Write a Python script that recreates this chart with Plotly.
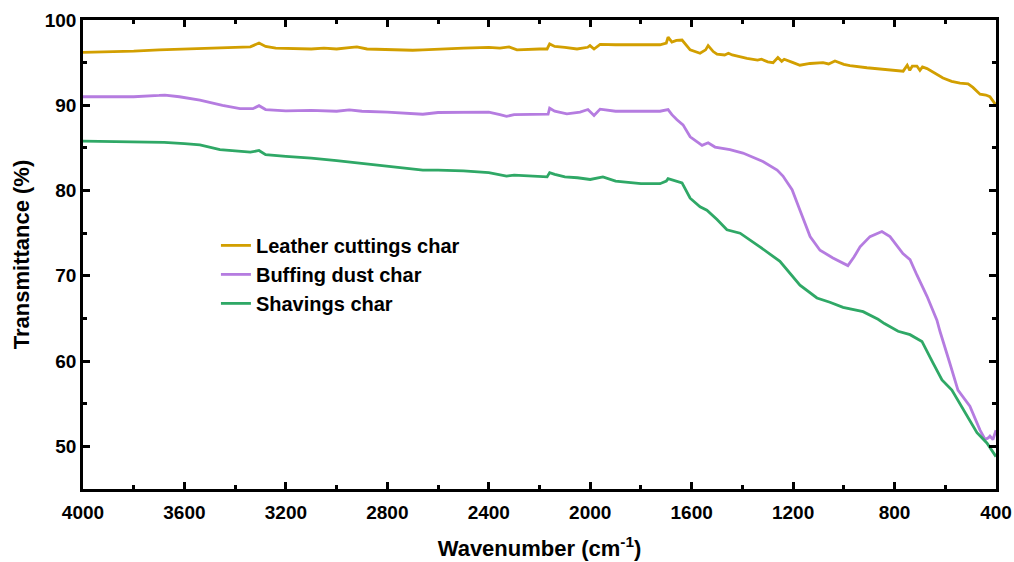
import plotly.graph_objects as go

# Leather cuttings char
wn_leather = [4000, 3900, 3800, 3700, 3600, 3500, 3400, 3340, 3306, 3280, 3240, 3150, 3100, 3050, 3000,
              2950, 2920, 2880, 2800, 2700, 2660, 2600, 2500, 2400, 2356, 2320, 2289, 2200, 2170, 2160,
              2140, 2100, 2052, 2010, 2001, 1985, 1961, 1900, 1800, 1725, 1700, 1693, 1678, 1660, 1638,
              1620, 1606, 1567, 1545, 1535, 1515, 1500, 1470, 1455, 1440, 1382, 1340, 1325, 1300, 1279,
              1260, 1245, 1235, 1200, 1173, 1133, 1100, 1082, 1060, 1035, 1000, 976, 909, 806, 766, 750,
              740, 730, 712, 700, 690, 672, 640, 609, 575, 542, 510, 491, 463, 440, 424, 404, 400]
t_leather = [96.2, 96.25, 96.35, 96.5, 96.6, 96.7, 96.75, 96.85, 97.3, 96.9, 96.7, 96.6, 96.6, 96.7, 96.6,
             96.75, 96.85, 96.6, 96.5, 96.45, 96.5, 96.6, 96.7, 96.8, 96.7, 96.85, 96.5, 96.6, 96.6, 97.2,
             96.9, 96.8, 96.6, 96.8, 97.0, 96.6, 97.15, 97.1, 97.1, 97.1, 97.3, 98.0, 97.4, 97.6, 97.65,
             97.0, 96.5, 96.1, 96.5, 97.0, 96.3, 96.0, 95.9, 96.1, 95.9, 95.5, 95.3, 95.4, 95.1, 95.0,
             95.6, 95.15, 95.4, 95.0, 94.7, 94.9, 94.95, 95.0, 94.85, 95.2, 94.8, 94.65, 94.4, 94.1, 94.0, 94.7,
             94.1, 94.6, 94.6, 94.1, 94.5, 94.3, 93.7, 93.2, 92.8, 92.6, 92.5, 92.1, 91.3, 91.2, 91.0, 90.2, 90.0]

# Buffing dust char
wn_buffing = [4000, 3900, 3800, 3700, 3677, 3620, 3539, 3450, 3381, 3330, 3306, 3280, 3200, 3100, 3000,
              2950, 2900, 2800, 2700, 2660, 2600, 2500, 2400, 2356, 2330, 2300, 2250, 2200, 2166, 2160,
              2140, 2092, 2040, 2009, 1985, 1961, 1900, 1800, 1725, 1693, 1678, 1658, 1634, 1606, 1559,
              1535, 1508, 1449, 1398, 1319, 1263, 1240, 1204, 1173, 1133, 1094, 1043, 984, 960, 936, 897,
              850, 818, 767, 739, 712, 672, 633, 621, 582, 550, 503, 463, 443, 430, 424, 412, 400]
t_buffing = [91.0, 91.0, 91.0, 91.15, 91.2, 91.0, 90.6, 90.0, 89.6, 89.6, 89.95, 89.5, 89.35, 89.4, 89.3,
             89.45, 89.3, 89.2, 89.0, 88.95, 89.15, 89.2, 89.2, 88.9, 88.7, 88.9, 88.9, 88.95, 88.95, 89.65,
             89.3, 89.0, 89.2, 89.5, 88.8, 89.55, 89.3, 89.3, 89.3, 89.5, 88.9, 88.3, 87.7, 86.3, 85.3,
             85.6, 85.1, 84.8, 84.4, 83.4, 82.4, 81.7, 80.1, 77.7, 74.6, 73.0, 72.1, 71.2, 72.2, 73.4, 74.6,
             75.2, 74.6, 72.6, 71.9, 70.1, 67.6, 64.8, 63.5, 59.75, 56.6, 54.7, 51.9, 50.8, 51.0, 51.2, 50.8, 51.9]

# Shavings char
wn_shavings = [4000, 3900, 3800, 3700, 3680, 3600, 3539, 3460, 3340, 3306, 3280, 3200, 3100, 3000, 2900,
               2800, 2700, 2660, 2600, 2500, 2400, 2330, 2300, 2250, 2170, 2160, 2140, 2100, 2050, 2000,
               1961, 1950, 1900, 1800, 1725, 1700, 1693, 1670, 1638, 1606, 1567, 1540, 1500, 1461, 1409,
               1331, 1252, 1173, 1106, 1055, 1003, 924, 865, 840, 786, 739, 692, 648, 613, 574, 530, 475,
               436, 404, 400]
t_shavings = [85.8, 85.75, 85.65, 85.6, 85.65, 85.5, 85.35, 84.8, 84.5, 84.7, 84.2, 84.0, 83.8, 83.5, 83.2,
              82.9, 82.55, 82.4, 82.4, 82.3, 82.1, 81.7, 81.8, 81.7, 81.6, 82.1, 81.9, 81.6, 81.5, 81.3,
              81.5, 81.6, 81.1, 80.8, 80.8, 81.1, 81.4, 81.2, 80.9, 79.1, 78.1, 77.7, 76.6, 75.4, 75.0,
              73.4, 71.7, 68.9, 67.4, 66.9, 66.3, 65.8, 64.9, 64.4, 63.5, 63.1, 62.3, 59.75, 57.8, 56.6, 54.3, 51.6,
              50.4, 49.0, 48.8]

series = [
    ("Leather cuttings char", wn_leather, t_leather, "#D29F00"),
    ("Buffing dust char", wn_buffing, t_buffing, "#B57CE0"),
    ("Shavings char", wn_shavings, t_shavings, "#2FA866"),
]

x_ticks = [4000, 3600, 3200, 2800, 2400, 2000, 1600, 1200, 800, 400]
y_ticks = [50, 60, 70, 80, 90, 100]

FONT = "Liberation Sans, Arial, sans-serif"

fig = go.Figure()
for i, (name, x, y, c) in enumerate(series):
    fig.add_trace(go.Scatter(x=x, y=y, mode="lines", name=name,
                             line=dict(color=c, width=2.8)))

axis_common = dict(
    showline=True, linecolor="black", linewidth=2.5, mirror="allticks",
    ticks="inside", ticklen=7, tickwidth=2.5, tickcolor="black",
    showgrid=False, zeroline=False, automargin=False,
    tickfont=dict(family=FONT, size=19, color="black", weight="bold"),
)

fig.update_xaxes(
    range=[4000, 400], tickvals=x_ticks, ticktext=[str(v) for v in x_ticks],
    ticklabelstandoff=4,
    minor=dict(ticks="inside", ticklen=4, tickwidth=2.5, tickcolor="black", dtick=200, tick0=0, showgrid=False),
    title=dict(text="Wavenumber (cm<sup>-1</sup>)", font=dict(family=FONT, size=22, color="black", weight="bold"),
               standoff=20),
    **axis_common,
)
fig.update_yaxes(
    range=[45, 100], tickvals=y_ticks, ticktext=[str(v) for v in y_ticks],
    minor=dict(ticks="inside", ticklen=4, tickwidth=2.5, tickcolor="black", dtick=5, tick0=0, showgrid=False),
    title=dict(text="Transmittance (%)", font=dict(family=FONT, size=22, color="black", weight="bold"),
               standoff=10),
    **axis_common,
)

fig.update_layout(
    width=1014, height=562,
    margin=dict(l=83, r=18, t=20, b=73),
    plot_bgcolor="white", paper_bgcolor="white",
    showlegend=True,
    legend=dict(x=0.1456, y=0.561, xanchor="left", yanchor="top",
                font=dict(family=FONT, size=20, color="black", weight="bold"),
                bgcolor="rgba(0,0,0,0)"),
)

fig.write_html("out.html")
